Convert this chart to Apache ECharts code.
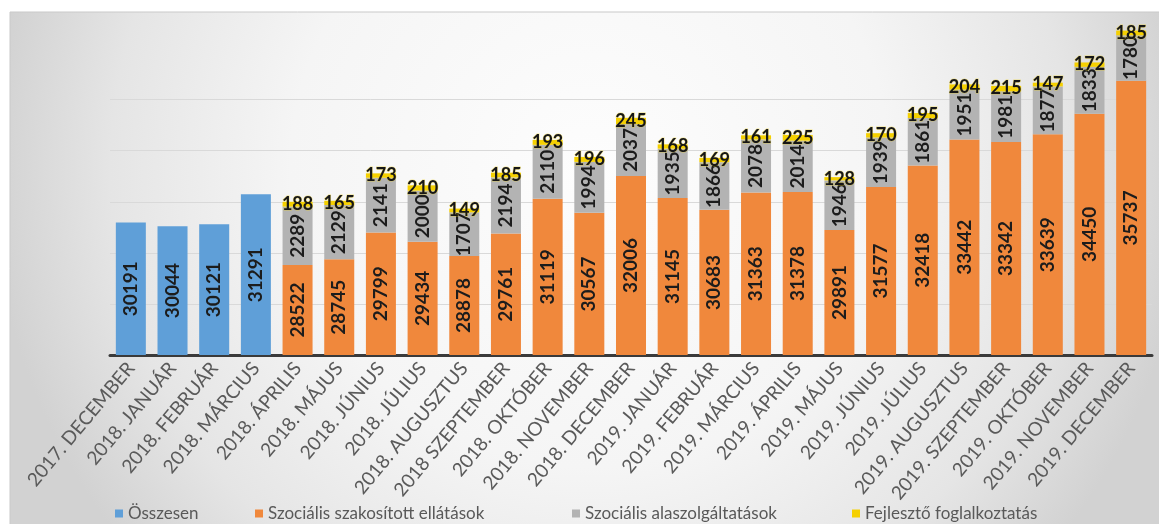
<!DOCTYPE html>
<html>
<head>
<meta charset="utf-8">
<script src="https://cdn.jsdelivr.net/npm/echarts@6/dist/echarts.min.js"></script>
<style>
html,body{margin:0;padding:0;background:#ffffff;}
#chart{width:1159px;height:524px;}
</style>
</head>
<body>
<div id="chart"></div>
<script>
const categories = [
  '2017. DECEMBER','2018. JANUÁR','2018. FEBRUÁR','2018. MÁRCIUS','2018. ÁPRILIS','2018. MÁJUS',
  '2018. JÚNIUS','2018. JÚLIUS','2018. AUGUSZTUS','2018 SZEPTEMBER','2018. OKTÓBER','2018. NOVEMBER',
  '2018. DECEMBER','2019. JANUÁR','2019. FEBRUÁR','2019. MÁRCIUS','2019. ÁPRILIS','2019. MÁJUS',
  '2019. JÚNIUS','2019. JÚLIUS','2019. AUGUSZTUS','2019. SZEPTEMBER','2019. OKTÓBER','2019. NOVEMBER',
  '2019. DECEMBER'
];
const seriesNames = ['Összesen','Szociális szakosított ellátások','Szociális alaszolgáltatások','Fejlesztő foglalkoztatás'];
const osszesen = [30191, 30044, 30121, 31291];
const szakositott = [28522, 28745, 29799, 29434, 28878, 29761, 31119, 30567, 32006, 31145, 30683,
  31363, 31378, 29891, 31577, 32418, 33442, 33342, 33639, 34450, 35737];
const alapszolg = [2289, 2129, 2141, 2000, 1707, 2194, 2110, 1994, 2037, 1935, 1866,
  2078, 2014, 1946, 1939, 1861, 1951, 1981, 1877, 1833, 1780];
const fejleszto = [188, 165, 173, 210, 149, 185, 193, 196, 245, 168, 169,
  161, 225, 128, 170, 195, 204, 215, 147, 172, 185];

const n = categories.length;
const pad = (arr, before) => {
  const out = [];
  for (let i = 0; i < n; i++) {
    const j = i - before;
    out.push(j >= 0 && j < arr.length ? arr[j] : '-');
  }
  return out;
};
const blueData = pad(osszesen, 0);
const orangeData = pad(szakositott, osszesen.length);
const grayData = pad(alapszolg, osszesen.length);
const yellowData = pad(fejleszto, osszesen.length);

const FONT = 'Lato, "DejaVu Sans", sans-serif';
const colors = ['#5f9fd8', '#f0883c', '#b3b3b3', '#f5d000'];

const inLabel = {
  show: true, position: 'inside', rotate: 90,
  fontFamily: FONT, fontSize: 19, fontWeight: 'bold', color: '#1c1c1c'
};

const chart = echarts.init(document.getElementById('chart'), null, {renderer: 'canvas'});
const legendPos = [110, 250, 567, 847];
chart.setOption({
  animation: false,
  textStyle: {fontFamily: FONT},
  graphic: [{
    type: 'rect', z: -100, silent: true,
    shape: {x: 10, y: 12, width: 1160, height: 520},
    style: {
      fill: {
        type: 'radial', x: 0.5, y: 0.3, r: 1.15,
        colorStops: [
          {offset: 0, color: '#fdfdfd'},
          {offset: 0.5, color: '#f5f5f5'},
          {offset: 0.8, color: '#e5e5e5'},
          {offset: 1, color: '#d2d2d2'}
        ]
      },
      stroke: '#c9c9c9', lineWidth: 1
    }
  }],
  grid: {left: 110, right: 7, top: 23, bottom: 169, containLabel: false},
  legend: seriesNames.map((nm, i) => ({
    data: [nm], left: legendPos[i], top: 500,
    icon: 'rect', itemWidth: 8, itemHeight: 8,
    textStyle: {color: '#595959', fontSize: 17, fontFamily: FONT},
    selectedMode: false
  })),
  xAxis: {
    type: 'category', data: categories,
    axisLine: {lineStyle: {color: '#3a3a3a', width: 3}},
    axisTick: {show: false},
    axisLabel: {interval: 0, rotate: 50, color: '#5a5a5a', fontSize: 19, fontFamily: FONT, margin: 10}
  },
  yAxis: {
    type: 'value', min: 25000, max: 38000, interval: 2000,
    axisLabel: {show: false}, axisLine: {show: false}, axisTick: {show: false},
    splitLine: {
      show: true, showMaxLine: false,
      lineStyle: {color: ['#d9d9d9','#d9d9d9','#d9d9d9','#d9d9d9','#d9d9d9','#d9d9d9','rgba(0,0,0,0)','rgba(0,0,0,0)']}
    }
  },
  series: [
    {name: seriesNames[0], type: 'bar', stack: 'total', data: blueData, barCategoryGap: '28%',
      itemStyle: {color: colors[0]}, label: inLabel},
    {name: seriesNames[1], type: 'bar', stack: 'total', data: orangeData,
      itemStyle: {color: colors[1]}, label: inLabel},
    {name: seriesNames[2], type: 'bar', stack: 'total', data: grayData,
      itemStyle: {color: colors[2]}, label: inLabel},
    {name: seriesNames[3], type: 'bar', stack: 'total', data: yellowData,
      itemStyle: {color: colors[3]},
      label: {show: true, position: 'inside', fontFamily: FONT, fontSize: 18, fontWeight: 'bold',
        color: '#161616', textBorderColor: 'rgba(242,210,26,0.5)', textBorderWidth: 1}}
  ]
});
</script>
</body>
</html>
